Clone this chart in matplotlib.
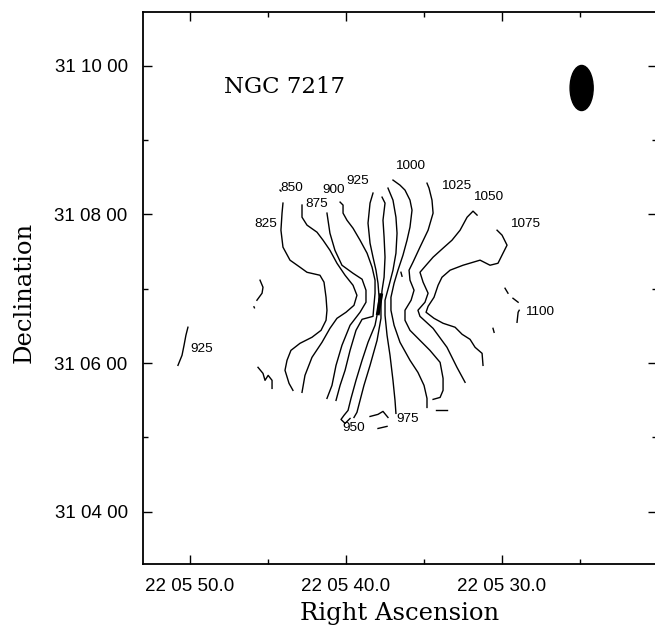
import numpy as np
import matplotlib
matplotlib.use("Agg")
from matplotlib import pyplot as plt
from matplotlib.patches import Ellipse

# Isovelocity contours of NGC 7217, traced as (RA seconds past 22h05m, Dec arcsec past 31d00m)
v825 = [(44.04, 489.2), (44.10, 481.1), (44.17, 467.3), (44.04, 453.6), (43.59, 443.1),
        (42.95, 437.4), (42.50, 433.3), (41.67, 430.9), (41.41, 425.3), (41.28, 413.1),
        (41.22, 402.6), (41.28, 394.5), (41.60, 386.4), (42.18, 380.8), (42.95, 375.9),
        (43.53, 370.2), (43.78, 362.2), (43.91, 354.1), (43.65, 343.5), (43.40, 337.9)]
v850 = [(42.82, 487.6), (42.82, 477.8), (42.50, 471.4), (41.86, 465.7), (41.47, 459.2),
        (41.03, 451.1), (40.58, 440.6), (40.06, 430.9), (39.55, 422.8), (39.30, 414.7),
        (39.49, 406.6), (40.00, 401.0), (40.58, 396.1), (41.03, 388.0), (41.54, 376.7),
        (42.18, 364.6), (42.63, 350.0), (42.82, 336.3)]
v875 = [(41.22, 481.1), (41.03, 464.9), (40.71, 451.1), (40.26, 439.0), (39.55, 432.5),
        (38.97, 427.7), (38.72, 418.8), (38.72, 409.1), (39.10, 401.0), (39.74, 390.5),
        (40.26, 374.3), (40.64, 358.1), (40.90, 341.9), (41.22, 331.4)]
v900 = [(40.38, 490.0), (40.19, 487.6), (40.19, 481.1), (39.94, 475.4), (39.55, 468.9),
        (39.10, 459.2), (38.65, 448.7), (38.33, 437.4), (38.14, 426.9), (38.14, 416.4),
        (38.21, 406.6), (38.27, 397.7), (38.97, 395.3), (39.36, 386.4), (39.74, 370.2),
        (40.06, 354.1), (40.38, 341.9), (40.64, 329.8)]
v925 = [(38.27, 497.3), (38.46, 489.2), (38.59, 473.0), (38.46, 456.8), (38.27, 445.5),
        (38.08, 435.0), (37.95, 424.4), (37.88, 413.1), (37.95, 402.6), (38.14, 390.5),
        (38.59, 376.7), (38.97, 362.2), (39.36, 346.0), (39.68, 331.4), (39.87, 321.7),
        (40.13, 317.7), (40.32, 314.4), (40.06, 311.2), (39.74, 315.2)]
v950 = [(37.69, 494.0), (37.50, 489.2), (37.63, 475.4), (37.56, 461.7), (37.50, 445.5),
        (37.56, 429.3), (37.69, 418.8), (37.76, 408.3), (37.76, 396.1), (38.01, 378.3),
        (38.46, 358.1), (38.85, 341.9), (39.10, 329.8), (39.30, 320.1), (39.49, 316.0)]
v975 = [(37.31, 501.3), (36.99, 491.6), (36.80, 477.8), (36.73, 464.9), (36.80, 448.7),
        (36.99, 435.0), (37.24, 422.8), (37.50, 410.7), (37.50, 398.6), (37.37, 382.4),
        (37.18, 366.2), (36.99, 346.0), (36.86, 329.8), (36.80, 319.3)]
v1000 = [(36.99, 507.8), (36.54, 503.7), (36.22, 499.7), (35.90, 491.6), (35.77, 483.5),
         (35.90, 469.8), (36.09, 459.2), (36.35, 447.1), (36.67, 435.0), (36.92, 424.4),
         (37.12, 413.1), (37.12, 402.6), (36.92, 390.5), (36.54, 376.7), (35.90, 362.2),
         (35.39, 352.4), (35.00, 341.9), (34.81, 331.4), (34.81, 324.1)]
v1025 = [(34.81, 505.3), (34.68, 501.3), (34.49, 491.6), (34.42, 481.1), (34.74, 467.3),
         (35.26, 453.6), (35.71, 441.4), (35.96, 435.0), (35.90, 426.9), (35.64, 418.8),
         (35.83, 410.7), (36.22, 402.6), (36.22, 394.5), (35.90, 386.4), (35.26, 378.3),
         (34.62, 370.2), (33.97, 360.5), (33.78, 347.6), (33.78, 337.9), (33.97, 332.2),
         (34.42, 330.6)]
v1050 = [(31.60, 479.5), (31.86, 482.7), (32.24, 477.8), (32.69, 467.3), (33.21, 459.2),
         (33.78, 452.8), (34.42, 445.5), (34.87, 439.0), (35.26, 433.3), (35.06, 425.3),
         (34.74, 416.4), (34.94, 409.1), (35.39, 402.6), (35.26, 397.7), (34.42, 388.0),
         (33.53, 372.7), (32.89, 356.5), (32.37, 344.4)]
v1075 = [(30.32, 467.3), (30.00, 463.3), (29.68, 455.2), (29.94, 448.7), (30.26, 440.6),
         (30.77, 439.0), (31.41, 443.1), (31.86, 441.4), (32.50, 439.0), (33.33, 435.0),
         (33.85, 429.3), (34.10, 422.8), (34.36, 413.1), (34.74, 405.8), (34.87, 401.0),
         (34.36, 396.1), (33.78, 392.1), (33.01, 388.9), (32.56, 383.2), (32.05, 379.1),
         (31.73, 372.7), (31.28, 367.8), (31.22, 358.1)]

# short broken pieces of contour at the edge of the detected emission
pieces = [
    [(44.23, 499.7), (44.17, 498.9)],
    [(29.81, 420.4), (29.62, 416.4)],
    [(29.30, 412.3), (28.97, 409.1)],
    [(28.90, 402.6), (28.97, 401.0), (29.04, 392.9)],
    [(30.58, 388.0), (30.51, 384.8)],
    [(50.13, 388.9), (50.26, 382.4), (50.38, 374.3), (50.51, 366.2), (50.77, 358.1)],
    [(45.51, 426.9), (45.32, 421.2), (45.38, 416.4), (45.71, 410.7)],
    [(45.90, 405.4), (45.87, 404.6)],
    [(45.64, 356.5), (45.32, 351.6), (45.19, 346.0), (44.99, 350.0), (44.74, 346.0), (44.74, 339.5)],
    [(38.46, 316.8), (37.95, 318.5), (37.63, 320.9), (37.31, 316.0)],
    [(37.95, 307.1), (37.37, 308.8)],
    [(34.23, 321.7), (33.53, 321.7)],
    [(36.48, 433.3), (36.41, 430.1)],
]
kinematic_centre = [(37.76, 414.7), (37.95, 400.2)]

contours = [v825, v850, v875, v900, v925, v950, v975, v1000, v1025, v1050, v1075]

# velocity labels (km/s) and where they sit
label_vals = [825, 850, 875, 900, 925, 1000, 1025, 1050, 1075, 1100, 925, 950, 975]
label_ra = [45.13, 43.46, 41.86, 40.77, 39.23, 35.90, 32.95, 30.90, 28.53, 27.63, 49.23, 39.49, 36.03]
label_dec = [472.2, 501.3, 488.4, 499.7, 507.0, 519.1, 502.9, 494.0, 472.2, 401.0, 371.1, 307.1, 314.4]

# synthesized beam
beam_ra, beam_dec = 24.90, 582.2
beam_maj, beam_min = 36.4, 19.0   # arcsec
dec0 = 31.1

plt.figure(figsize=(6.55, 6.29), dpi=100)
ax = plt.axes([143 / 655, 65 / 629, 514 / 655, 552 / 629])

for c in contours + pieces:
    c = np.array(c)
    ax.plot(c[:, 0], c[:, 1], color="black", lw=1.0)
c = np.array(kinematic_centre)
ax.plot(c[:, 0], c[:, 1], color="black", lw=2.8)

for v, x, y in zip(label_vals, label_ra, label_dec):
    ax.text(x, y, str(v), ha="center", va="center", fontsize=9.7,
            family="Liberation Sans")

beam_w = beam_min / (15 * np.cos(np.radians(dec0)))
ax.add_patch(Ellipse((beam_ra, beam_dec), beam_w, beam_maj, color="black"))

ax.text(0.275, 0.865, "NGC 7217", transform=ax.transAxes, ha="center", va="center",
        fontsize=16.5, family="DejaVu Serif")

ax.set_xlim(53.01, 20.07)
ax.set_ylim(197.6, 643.6)

ax.set_xticks([50, 40, 30])
ax.set_xticks([45, 35, 25], minor=True)
ax.set_xticklabels(["22 05 %.1f" % s for s in [50, 40, 30]])
ax.set_yticks([240, 360, 480, 600])
ax.set_yticks([300, 420, 540], minor=True)
ax.set_yticklabels(["31 %02d %02d" % (d // 60, d % 60) for d in [240, 360, 480, 600]])
for lab in ax.get_xticklabels() + ax.get_yticklabels():
    lab.set_family("Liberation Sans")
    lab.set_fontsize(13.5)

ax.tick_params(which="both", direction="in", top=True, right=True, width=1.0)
ax.tick_params(which="major", length=6.5)
ax.tick_params(which="minor", length=3.8)
ax.tick_params(axis="x", pad=10)
ax.tick_params(axis="y", pad=11)
for s in ax.spines.values():
    s.set_linewidth(1.3)

ax.set_xlabel("Right Ascension", fontsize=17.5, family="DejaVu Serif", va="center")
ax.xaxis.set_label_coords(0.5, -0.0888)
ax.set_ylabel("Declination", fontsize=17.5, family="DejaVu Serif", va="center")
ax.yaxis.set_label_coords(-0.2315, 0.4928)

plt.savefig("out.png", dpi=100)
